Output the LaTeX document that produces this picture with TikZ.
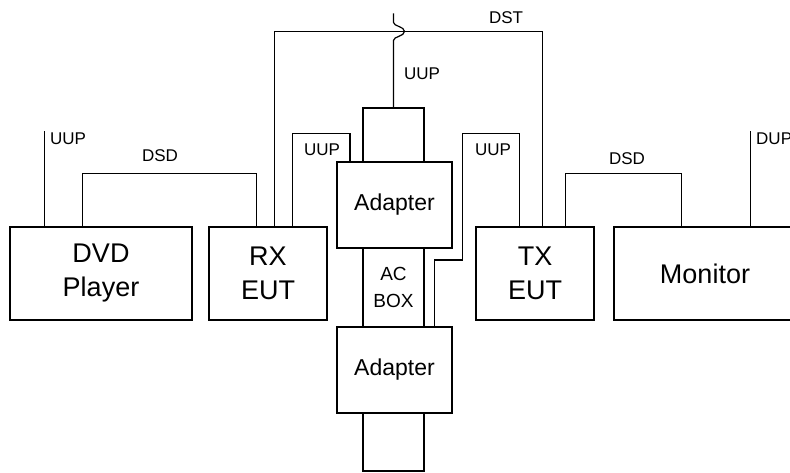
\documentclass[tikz,border=0pt]{standalone}
\usepackage{fontspec}
\setmainfont{Liberation Sans}
\begin{document}
\begin{tikzpicture}[x=1pt,y=-1pt,
  box/.style={draw,line width=1.2pt,inner sep=0pt,align=center,font=\fontsize{27}{34}\selectfont},
  adbox/.style={box,font=\fontsize{23}{28}\selectfont},
  acbx/.style={box,font=\fontsize{19}{27}\selectfont},
  lbl/.style={font=\fontsize{17}{20}\selectfont,inner sep=0pt},
  wire/.style={line width=1.2pt}]
\useasboundingbox (0,0) rectangle (790,472);
\clip (0,0) rectangle (790,472);
% boxes
\node[box,minimum width=182pt,minimum height=93pt] (dvd) at (101,273.5) {DVD\\Player};
\node[box,minimum width=118pt,minimum height=93pt] (rx) at (268,273.5) {RX\\EUT};
\node[box,minimum width=118pt,minimum height=93pt] (tx) at (535,273.5) {TX\\EUT};
\node[box,minimum width=182pt,minimum height=93pt] (mon) at (705,273.5) {Monitor};
\node[box,minimum width=61pt,minimum height=54pt] (topbox) at (393.5,135) {};
\node[adbox,minimum width=115pt,minimum height=86pt] (ad1) at (394.5,205) {Adapter};
\node[acbx,minimum width=61pt,minimum height=79pt] (ac) at (393.5,287.5) {AC\\BOX};
\node[adbox,minimum width=115pt,minimum height=86pt] (ad2) at (394.5,370) {Adapter};
\node[box,minimum width=61pt,minimum height=58pt] (botbox) at (393.5,442) {};
% wires
\draw[wire] ([xshift=35pt]dvd.north west) -- ++(0,-95) coordinate (dvdu);
\draw[wire] ([xshift=73pt]dvd.north west) -- ++(0,-53) -| ([xshift=48pt]rx.north west);
\draw[wire] ([xshift=66pt]rx.north west) -- ++(0,-195) -| ([xshift=67pt]tx.north west);
\draw[wire] ([xshift=84pt]rx.north west) -- ++(0,-93) -| ([xshift=-44.5pt]ad1.north);
\draw[wire] (topbox.north) -- ++(0,-67) .. controls ++(0,-4) and ++(0,5) .. ++(11,-9)
  .. controls ++(0,-5) and ++(0,4) .. ++(-11,-9) -- ++(0,-9) coordinate (topu);
\draw[wire] ([xshift=44pt]tx.north west) -- ++(0,-93) -| ([xshift=-13pt]tx.west |- 0,260) -| ([xshift=98pt]ad2.north west);
\draw[wire] ([xshift=90pt]tx.north west) -- ++(0,-53) -| ([xshift=68pt]mon.north west);
\draw[wire] ([xshift=137pt]mon.north west) -- ++(0,-95) coordinate (monu);
% labels
\node[lbl,anchor=west] (l1) at (50,139) {UUP};
\node[lbl] (l2) at (160,156) {DSD};
\node[lbl] (l3) at (322,150) {UUP};
\node[lbl] (l4) at (422,74) {UUP};
\node[lbl] (l5) at (506,18) {DST};
\node[lbl] (l6) at (493,150) {UUP};
\node[lbl] (l7) at (627,159) {DSD};
\node[lbl,anchor=west] (l8) at (756,139) {DUP};
\end{tikzpicture}
\end{document}
